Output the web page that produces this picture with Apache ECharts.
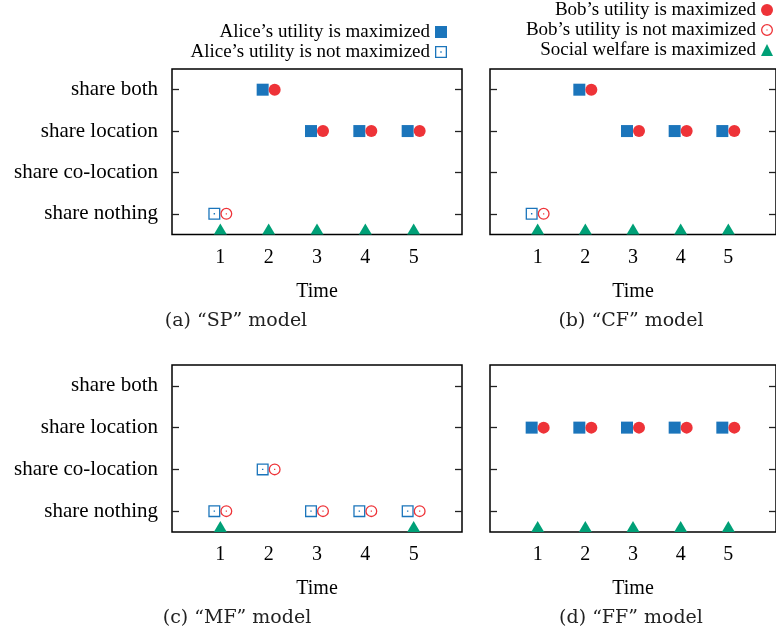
<!DOCTYPE html>
<html>
<head>
<meta charset="utf-8">
<script src="https://cdn.jsdelivr.net/npm/echarts@6/dist/echarts.min.js"></script>
<style>
  html, body { margin: 0; padding: 0; background: #fff; }
  #main { width: 776px; height: 636px; }
</style>
</head>
<body>
<div id="main"></div>
<script>
// categories
const times = [1, 2, 3, 4, 5];
const levelNames = ['share nothing', 'share co-location', 'share location', 'share both'];
const timeTicks = [1, 2, 3, 4, 5];
const levelTicks = [0, 1, 2, 3];

// sharing level chosen at each time (index into levelNames), and whether utility is maximized
const spAlice = [0, 3, 2, 2, 2];
const spAliceMax = [0, 1, 1, 1, 1];
const spBob = [0, 3, 2, 2, 2];
const spBobMax = [0, 1, 1, 1, 1];
const spWelfare = [1, 1, 1, 1, 1];

const cfAlice = [0, 3, 2, 2, 2];
const cfAliceMax = [0, 1, 1, 1, 1];
const cfBob = [0, 3, 2, 2, 2];
const cfBobMax = [0, 1, 1, 1, 1];
const cfWelfare = [1, 1, 1, 1, 1];

const mfAlice = [0, 1, 0, 0, 0];
const mfAliceMax = [0, 0, 0, 0, 0];
const mfBob = [0, 1, 0, 0, 0];
const mfBobMax = [0, 0, 0, 0, 0];
const mfWelfare = [1, 0, 0, 0, 1];

const ffAlice = [2, 2, 2, 2, 2];
const ffAliceMax = [1, 1, 1, 1, 1];
const ffBob = [2, 2, 2, 2, 2];
const ffBobMax = [1, 1, 1, 1, 1];
const ffWelfare = [1, 1, 1, 1, 1];

const captions = ['(a) \u201cSP\u201d model', '(b) \u201cCF\u201d model', '(c) \u201cMF\u201d model', '(d) \u201cFF\u201d model'];

// 颜色和符号
const blue = '#1b75bb';
const red = '#ee3338';
const green = '#00a077';
const hollowSquare = 'path://M0,0H12V12H0Z M1.3,1.3V10.7H10.7V1.3Z M5.3,5.3H6.7V6.7H5.3Z';
const hollowCircle = 'path://M6,0A6,6 0 1,1 6,12A6,6 0 1,1 6,0Z M6,1.3A4.7,4.7 0 1,0 6,10.7A4.7,4.7 0 1,0 6,1.3Z M5.4,5.4H6.6V6.6H5.4Z';
const serif = '"Liberation Serif", "Times New Roman", serif';

const nameAliceMax = 'Alice\u2019s utility is maximized';
const nameAliceNot = 'Alice\u2019s utility is not maximized';
const nameBobMax = 'Bob\u2019s utility is maximized';
const nameBobNot = 'Bob\u2019s utility is not maximized';
const nameWelfare = 'Social welfare is maximized';

const panels = [
  { alice: spAlice, aliceMax: spAliceMax, bob: spBob, bobMax: spBobMax, welfare: spWelfare },
  { alice: cfAlice, aliceMax: cfAliceMax, bob: cfBob, bobMax: cfBobMax, welfare: cfWelfare },
  { alice: mfAlice, aliceMax: mfAliceMax, bob: mfBob, bobMax: mfBobMax, welfare: mfWelfare },
  { alice: ffAlice, aliceMax: ffAliceMax, bob: ffBob, bobMax: ffBobMax, welfare: ffWelfare }
];

const grids = [
  { left: 172, top: 69, width: 290, height: 165.5 },
  { left: 490, top: 69, width: 289, height: 165.5 },
  { left: 172, top: 365, width: 290, height: 167 },
  { left: 490, top: 365, width: 289, height: 167 }
];
const captionPos = [[236, 321], [631, 321], [237, 618], [631, 618]];

let xAxes = [];
let yAxes = [];
let series = [];
let graphics = [];

panels.forEach((p, i) => {
  // 只有左列显示纵轴文字
  let showNames = i % 2 === 0;
  xAxes.push({
    gridIndex: i,
    type: 'value',
    min: 0,
    max: 6,
    interval: 1,
    name: 'Time',
    nameLocation: 'middle',
    nameGap: 47,
    nameTextStyle: { fontFamily: serif, fontSize: 20, color: '#000' },
    axisLine: { show: false },
    axisTick: { show: false },
    splitLine: { show: false },
    axisLabel: {
      customValues: timeTicks,
      margin: 13,
      fontFamily: serif,
      fontSize: 20,
      color: '#000'
    }
  });
  ['left', 'right'].forEach(pos => {
    yAxes.push({
      gridIndex: i,
      type: 'value',
      position: pos,
      min: -0.5,
      max: 3.5,
      axisLine: { show: false },
      splitLine: { show: false },
      axisTick: {
        show: true,
        inside: true,
        length: 7,
        customValues: levelTicks,
        lineStyle: { color: '#222', width: 1.3 }
      },
      axisLabel: {
        show: pos === 'left' && showNames,
        customValues: levelTicks,
        formatter: v => levelNames[v] || '',
        margin: 14,
        padding: [4, 0, 0, 0],
        fontFamily: serif,
        fontSize: 21,
        color: '#000'
      }
    });
  });

  const pick = (levels, flags, want) =>
    times.filter((t, k) => flags[k] === want).map(t => [t, levels[times.indexOf(t)]]);

  const common = { type: 'scatter', xAxisIndex: i, yAxisIndex: 2 * i, clip: false, silent: true };
  series.push(
    Object.assign({}, common, {
      name: nameAliceMax, symbol: 'rect', symbolSize: 12, symbolOffset: [-6, 0],
      itemStyle: { color: blue, opacity: 1 }, data: pick(p.alice, p.aliceMax, 1)
    }),
    Object.assign({}, common, {
      name: nameAliceNot, symbol: hollowSquare, symbolSize: 12, symbolOffset: [-6, 0],
      itemStyle: { color: blue, opacity: 1 }, data: pick(p.alice, p.aliceMax, 0)
    }),
    Object.assign({}, common, {
      name: nameBobMax, symbol: 'circle', symbolSize: 12, symbolOffset: [6, 0],
      itemStyle: { color: red, opacity: 1 }, data: pick(p.bob, p.bobMax, 1)
    }),
    Object.assign({}, common, {
      name: nameBobNot, symbol: hollowCircle, symbolSize: 12, symbolOffset: [6, 0],
      itemStyle: { color: red, opacity: 1 }, data: pick(p.bob, p.bobMax, 0)
    }),
    Object.assign({}, common, {
      name: nameWelfare, symbol: 'triangle', symbolSize: [13, 11], symbolOffset: [0, -5.5],
      itemStyle: { color: green, opacity: 1 },
      // 三角形画在时间轴底部
      data: times.filter((t, k) => p.welfare[k] === 1).map(t => [t, -0.5])
    })
  );

  graphics.push({
    type: 'text',
    x: captionPos[i][0],
    y: captionPos[i][1],
    style: {
      text: captions[i],
      align: 'center',
      verticalAlign: 'middle',
      font: '19px "DejaVu Serif", serif',
      fill: '#222'
    }
  });
});

const legendText = { fontFamily: serif, fontSize: 19, color: '#000', lineHeight: 20 };

let chart = echarts.init(document.getElementById('main'), null, { renderer: 'canvas' });
chart.setOption({
  animation: false,
  backgroundColor: '#fff',
  grid: grids.map(g => Object.assign({
    show: true,
    borderColor: '#000',
    borderWidth: 1.5,
    backgroundColor: 'transparent',
    containLabel: false
  }, g)),
  legend: [
    {
      orient: 'vertical',
      align: 'right',
      right: 329,
      top: 22,
      padding: 0,
      itemGap: 0,
      itemWidth: 12,
      itemHeight: 12,
      selectedMode: false,
      textStyle: legendText,
      data: [nameAliceMax, nameAliceNot]
    },
    {
      orient: 'vertical',
      align: 'right',
      right: 3,
      top: 0,
      padding: 0,
      itemGap: 0,
      itemWidth: 12,
      itemHeight: 12,
      selectedMode: false,
      textStyle: legendText,
      data: [nameBobMax, nameBobNot, nameWelfare]
    }
  ],
  xAxis: xAxes,
  yAxis: yAxes,
  series: series,
  graphic: graphics
});
</script>
</body>
</html>
